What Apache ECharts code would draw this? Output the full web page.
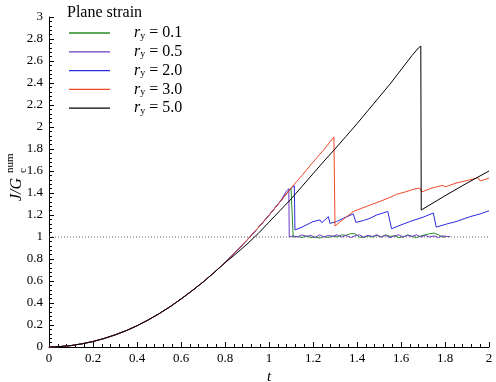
<!DOCTYPE html>
<html><head><meta charset="utf-8">
<script src="https://cdn.jsdelivr.net/npm/echarts@6/dist/echarts.min.js"></script>
<style>html,body{margin:0;padding:0;background:#fff}#c{width:496px;height:382px}</style>
</head><body><div id="c"></div>
<script>
// shared loading branch (all cases)
var tRise = [0,0.05,0.1,0.15,0.2,0.25,0.3,0.35,0.4,0.45,0.5,0.55,0.6,0.65,0.7,0.75,0.8,0.85,0.9,0.95,1.0,1.05];
var jRise = [0,0.004,0.013,0.029,0.05,0.077,0.11,0.148,0.193,0.245,0.302,0.366,0.436,0.511,0.59,0.676,0.768,0.867,0.972,1.082,1.198,1.32];

// r_y = 0.1
var tG = [1.1,1.108,1.11,1.13,1.15,1.17,1.19,1.21,1.23,1.25,1.27,1.29,1.31,1.33,1.35,1.37,1.39,1.41,1.43,1.45,1.47,1.49,1.51,1.53,1.55,1.57,1.59,1.61,1.63,1.65,1.67,1.69,1.71,1.73,1.75,1.77,1.79,1.80];
var jG = [1.445,1.46,1.0,1.005,0.995,1.01,0.995,1.0,0.99,1.005,0.995,1.01,1.0,1.02,1.015,1.03,1.03,1.0,0.995,1.01,1.0,1.015,1.0,1.02,1.005,1.01,0.995,1.0,1.02,1.005,0.995,1.01,1.02,1.03,1.035,1.02,1.0,1.0];
// r_y = 0.5
var tP = [1.08,1.09,1.092,1.11,1.13,1.15,1.17,1.19,1.21,1.23,1.25,1.27,1.29,1.31,1.33,1.35,1.37,1.39,1.41,1.43,1.45,1.47,1.49,1.51,1.53,1.55,1.57,1.59,1.61,1.63,1.65,1.67,1.69,1.71,1.73,1.75,1.77,1.79,1.81,1.823];
var jP = [1.42,1.44,1.0,1.01,1.0,1.02,1.005,1.015,0.995,1.02,1.0,1.015,1.005,1.02,1.0,1.015,0.995,1.01,1.02,1.0,1.015,1.005,1.02,1.0,1.015,0.995,1.01,1.02,1.0,1.015,1.005,1.02,1.0,1.015,1.0,1.01,0.995,1.01,1.005,1.005];
// r_y = 2.0
var tB = [1.1,1.115,1.118,1.15,1.2,1.232,1.24,1.27,1.277,1.307,1.338,1.383,1.395,1.43,1.459,1.489,1.54,1.557,1.6,1.64,1.7,1.747,1.76,1.807,1.85,1.914,1.96,2.0];
var jB = [1.445,1.465,1.064,1.09,1.14,1.155,1.13,1.185,1.124,1.14,1.17,1.21,1.133,1.15,1.17,1.2,1.232,1.075,1.11,1.14,1.18,1.218,1.09,1.118,1.14,1.185,1.21,1.238];
// r_y = 3.0
var tO = [1.1,1.15,1.2,1.25,1.295,1.30,1.35,1.382,1.40,1.459,1.5,1.55,1.58,1.62,1.66,1.685,1.694,1.74,1.79,1.80,1.85,1.914,1.95,1.96,2.0];
var jO = [1.445,1.56,1.68,1.795,1.91,1.10,1.18,1.23,1.245,1.29,1.32,1.36,1.388,1.41,1.435,1.445,1.41,1.445,1.47,1.455,1.49,1.52,1.54,1.51,1.535];
// r_y = 5.0
var tK = [0.8,0.85,0.9,0.95,1.0,1.05,1.1,1.15,1.2,1.25,1.3,1.35,1.4,1.45,1.5,1.55,1.6,1.65,1.68,1.69,1.692,1.8,1.9,2.0];
var jK = [0.765,0.848,0.935,1.03,1.135,1.24,1.345,1.46,1.575,1.69,1.8,1.915,2.03,2.15,2.27,2.39,2.52,2.65,2.72,2.735,1.245,1.375,1.49,1.6];

var names = ['0.1','0.5','2.0','3.0','5.0'];
var colors = ['#2a8c2a','#6a3cc4','#2b2be0','#ee4a2a','#000000'];
var xTicks = {min:0,max:2,step:0.2};
var yTicks = {min:0,max:3,step:0.2};
var refLine = [[0,1],[2,1]];

function zip(t,j){return t.map(function(v,i){return [v,j[i]];});}
function rise(upTo){var out=[];for(var i=0;i<tRise.length;i++){if(tRise[i]<upTo)out.push([tRise[i],jRise[i]]);}return out;}
var data = [
  rise(1.1).concat(zip(tG,jG)),
  rise(1.08).concat(zip(tP,jP)),
  rise(1.1).concat(zip(tB,jB)),
  rise(1.1).concat(zip(tO,jO)),
  rise(0.8).concat(zip(tK,jK))
];
var FONT = 'Liberation Serif';
var series = [{
  type:'line', name:'ref', data:refLine, symbol:'none', silent:true,
  lineStyle:{color:'#666',width:1,type:[1,2]}, z:1
}];
names.forEach(function(n,i){
  series.push({type:'line',name:n,data:data[i],symbol:'none',
    lineStyle:{color:colors[i],width:1},itemStyle:{color:colors[i]},z:2+i});
});
var chart = echarts.init(document.getElementById('c'),null,{renderer:'canvas'});
chart.setOption({
  animation:false,
  backgroundColor:'#fff',
  title:{text:'Plane strain',left:62,top:0,textStyle:{fontFamily:FONT,fontSize:16,fontWeight:'normal',color:'#000'}},
  legend:{
    data:names, orient:'vertical', left:64, top:20, icon:'rect', itemWidth:41, itemHeight:1.3, itemGap:2.8,
    formatter:function(n){return '{r|r}{s|y}{t| = '+n+'}';},
    textStyle:{fontFamily:FONT,fontSize:16,color:'#000',lineHeight:16,
      rich:{r:{fontFamily:FONT,fontStyle:'italic',fontSize:16,padding:[0,0,0,19]},
            s:{fontFamily:FONT,fontSize:10,padding:[6,0,0,0]},
            t:{fontFamily:FONT,fontSize:16}}}
  },
  grid:{left:49,right:7,top:17,bottom:35,containLabel:false,outerBoundsMode:'none'},
  xAxis:{type:'value',min:xTicks.min,max:xTicks.max,interval:xTicks.step,
    name:'t',nameLocation:'middle',nameGap:13,
    nameTextStyle:{fontFamily:FONT,fontStyle:'italic',fontSize:15,color:'#000'},
    axisLine:{lineStyle:{color:'#000',width:1}},
    axisTick:{inside:true,length:5,lineStyle:{color:'#000'}},
    minorTick:{show:true,splitNumber:5,length:3,lineStyle:{color:'#000'}},
    splitLine:{show:false},
    axisLabel:{fontFamily:FONT,fontSize:13,color:'#000',margin:5}},
  yAxis:{type:'value',min:yTicks.min,max:yTicks.max,interval:yTicks.step,
    axisLine:{show:true,lineStyle:{color:'#000',width:1}},
    axisTick:{show:true,inside:true,length:5,lineStyle:{color:'#000'}},
    minorTick:{show:true,splitNumber:5,length:3,lineStyle:{color:'#000'}},
    splitLine:{show:false},
    axisLabel:{fontFamily:FONT,fontSize:13,color:'#000',margin:6}},
  graphic:[{
    type:'group', x:17, y:201, rotation:Math.PI/2,
    children:[
      {type:'text',x:0,y:0,style:{text:'J/G',font:'italic 16px "Liberation Serif"',fill:'#000',textVerticalAlign:'middle'}},
      {type:'text',x:28,y:-7,style:{text:'num',font:'11px "Liberation Serif"',fill:'#000',textVerticalAlign:'middle'}},
      {type:'text',x:28,y:6,style:{text:'c',font:'11px "Liberation Serif"',fill:'#000',textVerticalAlign:'middle'}}
    ]
  }],
  series:series
});
</script></body></html>
